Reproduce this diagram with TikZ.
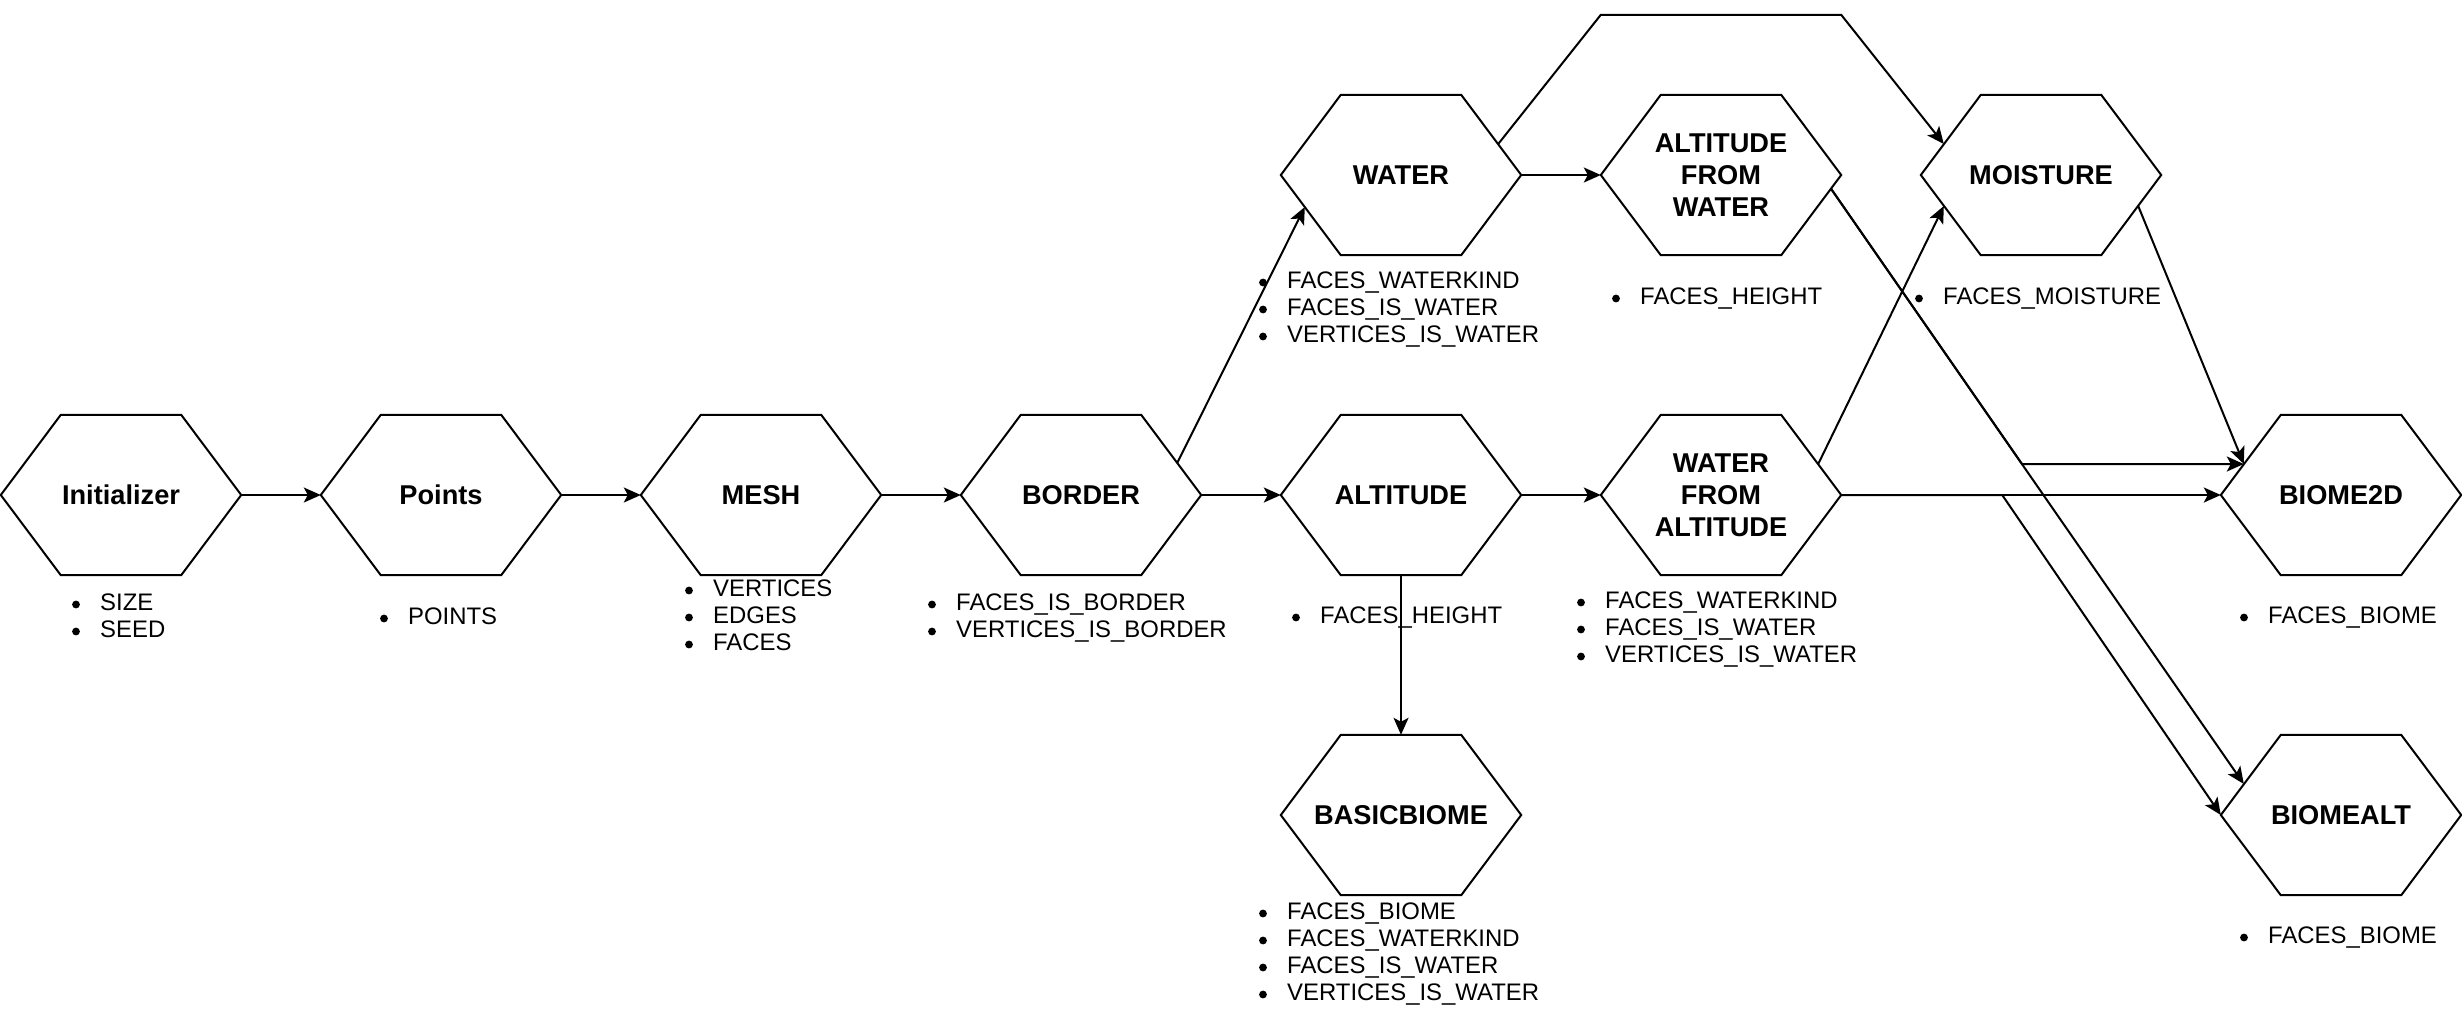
\documentclass[tikz,border=0pt]{standalone}
\usepackage{fontspec}
\setmainfont{Liberation Sans}
\usetikzlibrary{arrows.meta,calc}
\newcommand\blist[4]{%
  \foreach \itm [count=\idx from 0] in {#4}{%
    \node[listtext] (#1-\idx) at (#2,{#3+27*\idx}) {\itm};
    \fill ($(#1-\idx.base west)+(-24,-5.5)$) circle[radius=3.9pt];
  }%
}
\begin{document}
\begin{tikzpicture}[x=1pt,y=-1pt,
  hexa/.style={minimum width=240pt, minimum height=160pt, inner sep=0pt, align=center,
    font=\fontsize{27.2pt}{32pt}\selectfont\bfseries},
  hexline/.style={line width=2pt, line join=miter},
  listtext/.style={anchor=base west, inner sep=0pt, font=\fontsize{23.9pt}{27pt}\selectfont},
  conn/.style={line width=2pt, line join=miter, -{Stealth[length=17pt,width=15pt,inset=4pt]}}]
\useasboundingbox (0,0) rectangle (2462,1034);

% hexagon nodes
\node[hexa] (init) at (121,495) {Initializer};
\node[hexa] (points) at (441,495) {Points};
\node[hexa] (mesh) at (761,495) {MESH};
\node[hexa] (border) at (1081,495) {BORDER};
\node[hexa] (altitude) at (1401,495) {ALTITUDE};
\node[hexa] (wfa) at (1721,495) {WATER\\FROM\\ALTITUDE};
\node[hexa] (biome2d) at (2341,495) {BIOME2D};
\node[hexa] (water) at (1401,175) {WATER};
\node[hexa] (afw) at (1721,175) {ALTITUDE\\FROM\\WATER};
\node[hexa] (moisture) at (2041,175) {MOISTURE};
\node[hexa] (basicbiome) at (1401,815) {BASICBIOME};
\node[hexa] (biomealt) at (2341,815) {BIOMEALT};

\foreach \n in {init,points,mesh,border,altitude,wfa,biome2d,water,afw,moisture,basicbiome,biomealt}{
  \draw[hexline] (\n.west) -- ([xshift=60pt]\n.north west) -- ([xshift=-60pt]\n.north east)
    -- (\n.east) -- ([xshift=-60pt]\n.south east) -- ([xshift=60pt]\n.south west) -- cycle;
}

% lists
\blist{linit}{100}{610}{SIZE,SEED}
\blist{lpoints}{408}{624}{POINTS}
\blist{lmesh}{713}{596}{VERTICES,EDGES,FACES}
\blist{lborder}{956}{610}{FACES\_IS\_BORDER,VERTICES\_IS\_BORDER}
\blist{laltitude}{1320}{623}{FACES\_HEIGHT}
\blist{lwfa}{1605}{608}{FACES\_WATERKIND,FACES\_IS\_WATER,VERTICES\_IS\_WATER}
\blist{lbiomeb}{2268}{623}{FACES\_BIOME}
\blist{lwater}{1287}{288}{FACES\_WATERKIND,FACES\_IS\_WATER,VERTICES\_IS\_WATER}
\blist{lafw}{1640}{304}{FACES\_HEIGHT}
\blist{lmoisture}{1943}{304}{FACES\_MOISTURE}
\blist{lbasic}{1287}{919}{FACES\_BIOME,FACES\_WATERKIND,FACES\_IS\_WATER,VERTICES\_IS\_WATER}
\blist{lbiomealt}{2268}{943}{FACES\_BIOME}

% helper coordinates
\coordinate (topL) at ($(afw.north west)+(0,-80)$);
\coordinate (topR) at ($(afw.north east)+(0,-80)$);
\coordinate (afwout) at ($(afw.east)+(-10,14)$);
\coordinate (b2in) at ($(biome2d.west)+(23,-31)$);
\coordinate (baltin) at ($(biomealt.west)+(23,-31)$);
\coordinate (b2left) at (wfa.east |- b2in);
\coordinate (afwbend) at (intersection of afwout--baltin and b2left--b2in);
\coordinate (wfabend) at ($(wfa.east)+(161,0)$);

% connectors
\draw[conn] (init.east) -- (points.west);
\draw[conn] (points.east) -- (mesh.west);
\draw[conn] (mesh.east) -- (border.west);
\draw[conn] (border.east) -- (altitude.west);
\draw[conn] (altitude.east) -- (wfa.west);
\draw[conn] ($(border.east)+(-24,-32)$) -- ($(water.west)+(24,32)$);
\draw[conn] (water.east) -- (afw.west);
\draw[conn] ($(water.east)+(-23,-31)$) -- (topL) -- (topR) -- ($(moisture.west)+(23,-31)$);
\draw[conn] ($(wfa.east)+(-23,-31)$) -- ($(moisture.west)+(23,31)$);
\draw[conn] ($(moisture.east)+(-23,31)$) -- (b2in);
\draw[conn] (afwout) -- (afwbend) -- (b2in);
\draw[conn] (afwout) -- (baltin);
\draw[conn] (wfa.east) -- (biome2d.west);
\draw[conn] (wfa.east) -- (wfabend) -- (biomealt.west);
\draw[conn] (altitude.south) -- (basicbiome.north);
\end{tikzpicture}
\end{document}
